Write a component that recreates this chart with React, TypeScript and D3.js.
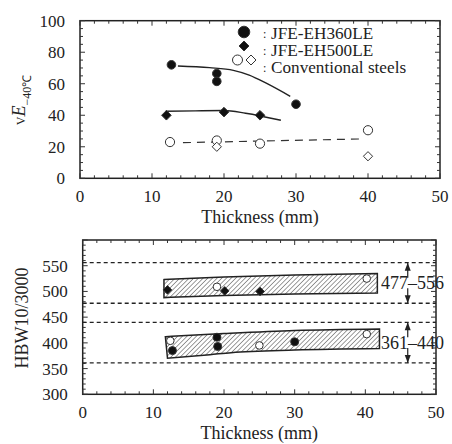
import React from 'react';
import * as d3 from 'd3';

// ---- toughness panel (vE-40°C vs thickness)
const eh360Toughness = [
  { t: 12.7, v: 72 },
  { t: 19, v: 66.5 },
  { t: 19, v: 61.5 },
  { t: 30, v: 47 },
];
const eh500Toughness = [
  { t: 12, v: 40 },
  { t: 20, v: 42 },
  { t: 25, v: 40 },
];
const convCircleToughness = [
  { t: 12.5, v: 23 },
  { t: 19, v: 24 },
  { t: 25, v: 22 },
  { t: 40, v: 30.5 },
];
const convDiamondToughness = [
  { t: 19, v: 20 },
  { t: 40, v: 14 },
];
const eh360Trend: [number, number][] = [[13.6, 71.3], [18, 70.2], [21.3, 68.5], [23.5, 65.5], [26, 60], [29.2, 52]];
const eh500Trend: [number, number][] = [[11.9, 42.5], [16, 42.8], [20, 43], [23, 41.3], [27.9, 36.8]];
const convTrend: [number, number][] = [[14.3, 22.6], [39.3, 25]];

// ---- hardness panel (HBW10/3000 vs thickness)
const hardnessEH500 = [
  { t: 12, v: 503 },
  { t: 20.1, v: 501 },
  { t: 25.1, v: 500 },
];
const hardnessEH360 = [
  { t: 12.7, v: 385 },
  { t: 19, v: 411 },
  { t: 19.1, v: 393 },
  { t: 30, v: 402 },
];
const hardnessConv = [
  { t: 19, v: 509 },
  { t: 40.2, v: 525 },
  { t: 12.4, v: 404 },
  { t: 25, v: 395 },
  { t: 40.2, v: 417 },
];
const upperBandTop: [number, number][] = [[11.5, 523], [20, 528], [30, 532], [41.7, 535]];
const upperBandBottom: [number, number][] = [[11.5, 488], [20, 492], [30, 495], [41.7, 497]];
const lowerBandTop: [number, number][] = [[11.7, 412], [20, 418], [30, 424], [42, 427]];
const lowerBandBottom: [number, number][] = [[12, 370], [18, 377], [21, 381], [30, 386], [42, 389]];
const specRanges = [
  { lo: 477, hi: 556, label: '477–556' },
  { lo: 361, hi: 440, label: '361–440' },
];
const arrowThickness = 46;

const xTicks = [0, 10, 20, 30, 40, 50];
const toughTicks = [0, 20, 40, 60, 80, 100];
const hardTicks = [300, 350, 400, 450, 500, 550];

const FONT = "'Liberation Serif', 'Times New Roman', serif";

const top = { left: 80, right: 440, top: 20.7, bottom: 178.3 };
const bot = { left: 82.7, right: 436, top: 240, bottom: 394.3 };

const Frame = ({ box, x, y, yMinor, yMajor, yLabels }: any) => {
  const xMinor = d3.range(0, 50.01, 2);
  const yMin = d3.range(y.domain()[0], y.domain()[1] + 0.01, yMinor);
  const yMaj = d3.range(y.domain()[0], y.domain()[1] + 0.01, yMajor);
  return (
    <g>
      <rect x={box.left} y={box.top} width={box.right - box.left} height={box.bottom - box.top}
        fill="none" stroke="#222" strokeWidth={1.5} />
      {xMinor.map((d) => {
        const len = d % 10 === 0 ? 5 : 3;
        return (
          <g key={'x' + d}>
            <line x1={x(d)} x2={x(d)} y1={box.bottom} y2={box.bottom - len} stroke="#333" strokeWidth={1} />
            <line x1={x(d)} x2={x(d)} y1={box.top} y2={box.top + len} stroke="#333" strokeWidth={1} />
          </g>
        );
      })}
      {yMin.map((d) => {
        const len = yMaj.includes(d) ? 5 : 3;
        return (
          <g key={'y' + d}>
            <line x1={box.left} x2={box.left + len} y1={y(d)} y2={y(d)} stroke="#333" strokeWidth={1} />
            <line x1={box.right} x2={box.right - len} y1={y(d)} y2={y(d)} stroke="#333" strokeWidth={1} />
          </g>
        );
      })}
      {xTicks.map((d) => (
        <text key={'xl' + d} x={x(d)} y={box.bottom + 24} textAnchor="middle" fontSize={17}>{d}</text>
      ))}
      {yLabels.map((d: number) => (
        <text key={'yl' + d} x={box.left - 15} y={y(d) + 6} textAnchor="end" fontSize={17}>{d}</text>
      ))}
      <text x={(box.left + box.right) / 2} y={box.bottom + 45} textAnchor="middle" fontSize={18}>Thickness (mm)</text>
    </g>
  );
};

const circle = (cx: number, cy: number, r: number, filled: boolean, key: string) => (
  <circle key={key} cx={cx} cy={cy} r={r} fill={filled ? '#111' : '#fff'} stroke="#333" strokeWidth={1} />
);
const diamond = (cx: number, cy: number, h: number, filled: boolean, key: string) => (
  <path key={key} d={`M${cx},${cy - h}L${cx + h},${cy}L${cx},${cy + h}L${cx - h},${cy}Z`}
    fill={filled ? '#111' : '#fff'} stroke="#333" strokeWidth={1} />
);

export default function App() {
  const xT = d3.scaleLinear().domain([0, 50]).range([top.left, top.right]);
  const yT = d3.scaleLinear().domain([0, 100]).range([top.bottom, top.top]);
  const xB = d3.scaleLinear().domain([0, 50]).range([bot.left, bot.right]);
  const yB = d3.scaleLinear().domain([300, 600]).range([bot.bottom, bot.top]);

  const lineT = d3.line<[number, number]>().x((d) => xT(d[0])).y((d) => yT(d[1])).curve(d3.curveMonotoneX);
  const lineB = d3.line<[number, number]>().x((d) => xB(d[0])).y((d) => yB(d[1])).curve(d3.curveMonotoneX);

  const band = (tp: [number, number][], bt: [number, number][]) => {
    const a = lineB(tp) as string;
    const b = (lineB([...bt].reverse()) as string).replace(/^M/, 'L');
    return a + b + 'Z';
  };

  const lx = 244;
  return (
    <svg width={452} height={444} style={{ position: 'absolute', left: 0, top: 0, background: '#fff', fontFamily: FONT }}
      fill="#222">
      <defs>
        <pattern id="hatch" patternUnits="userSpaceOnUse" width={3.3} height={6} patternTransform="rotate(45)">
          <line x1={0} y1={0} x2={0} y2={6} stroke="#222" strokeWidth={0.9} />
        </pattern>
      </defs>

      {/* top panel */}
      <Frame box={top} x={xT} y={yT} yMinor={5} yMajor={20} yLabels={toughTicks} />
      <path d={lineT(eh360Trend) as string} fill="none" stroke="#222" strokeWidth={1.4} />
      <path d={lineT(eh500Trend) as string} fill="none" stroke="#222" strokeWidth={1.4} />
      <path d={lineT(convTrend) as string} fill="none" stroke="#333" strokeWidth={1.2} strokeDasharray="8 6" />
      {eh360Toughness.map((d, i) => circle(xT(d.t), yT(d.v), 4.3, true, 'a' + i))}
      {eh500Toughness.map((d, i) => diamond(xT(d.t), yT(d.v), 4.8, true, 'b' + i))}
      {convCircleToughness.map((d, i) => circle(xT(d.t), yT(d.v), 4.6, false, 'c' + i))}
      {convDiamondToughness.map((d, i) => diamond(xT(d.t), yT(d.v), 4.6, false, 'd' + i))}

      {/* legend */}
      {circle(lx, 32, 5.8, true, 'la')}
      {diamond(lx, 46, 5, true, 'lb')}
      {circle(lx - 6.5, 60, 5, false, 'lc')}
      {diamond(lx + 7, 60, 5, false, 'ld')}
      {[38.5, 55.5, 72.5].map((b, i) => (
        <text key={'col' + i} x={263} y={b - 1} fontSize={12}>:</text>
      ))}
      <text x={271} y={38.5} fontSize={17.2}>JFE-EH360LE</text>
      <text x={271} y={55.5} fontSize={17.2}>JFE-EH500LE</text>
      <text x={271} y={72.5} fontSize={17.2}>Conventional steels</text>

      <text transform={`translate(25,100) rotate(-90)`} textAnchor="middle" fontSize={18}>
        <tspan fontSize={12}>V</tspan>
        <tspan fontStyle="italic">E</tspan>
        <tspan fontSize={12} dy={6}>−40℃</tspan>
      </text>

      {/* bottom panel */}
      <Frame box={bot} x={xB} y={yB} yMinor={10} yMajor={50} yLabels={hardTicks} />
      {specRanges.flatMap((r) => [r.lo, r.hi]).map((v) => (
        <line key={'h' + v} x1={bot.left} x2={bot.right} y1={yB(v)} y2={yB(v)} stroke="#222"
          strokeWidth={1.3} strokeDasharray="4 3" />
      ))}
      <path d={band(upperBandTop, upperBandBottom)} fill="url(#hatch)" stroke="#222" strokeWidth={1.5} />
      <path d={band(lowerBandTop, lowerBandBottom)} fill="url(#hatch)" stroke="#222" strokeWidth={1.5} />
      {hardnessConv.map((d, i) => circle(xB(d.t), yB(d.v), 3.8, false, 'e' + i))}
      {hardnessEH500.map((d, i) => diamond(xB(d.t), yB(d.v), 4.3, true, 'f' + i))}
      {hardnessEH360.map((d, i) => circle(xB(d.t), yB(d.v), 4, true, 'g' + i))}
      {specRanges.map((r, i) => {
        const ax = xB(arrowThickness);
        const yh = yB(r.hi);
        const yl = yB(r.lo);
        return (
          <g key={'ar' + i}>
            <line x1={ax} x2={ax} y1={yh} y2={yh + 15} stroke="#222" strokeWidth={1.2} />
            <path d={`M${ax},${yh}L${ax - 3},${yh + 8}L${ax + 3},${yh + 8}Z`} fill="#222" />
            <line x1={ax} x2={ax} y1={yl} y2={yl - 15} stroke="#222" strokeWidth={1.2} />
            <path d={`M${ax},${yl}L${ax - 3},${yl - 8}L${ax + 3},${yl - 8}Z`} fill="#222" />
            <text x={381} y={(yh + yl) / 2 + 6} fontSize={18}>{r.label}</text>
          </g>
        );
      })}
      <text transform={`translate(28,318) rotate(-90)`} textAnchor="middle" fontSize={18}>HBW10/3000</text>
    </svg>
  );
}
